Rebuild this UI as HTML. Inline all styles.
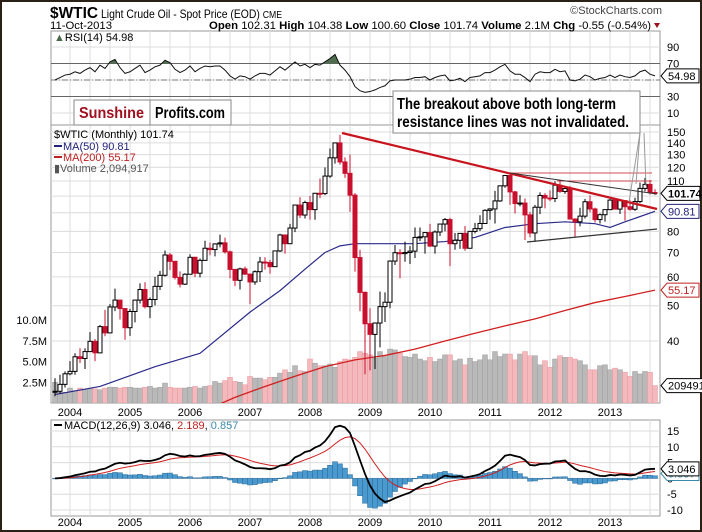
<!DOCTYPE html>
<html><head><meta charset="utf-8"><style>
html,body{margin:0;padding:0;background:#fff}
svg{display:block}
text{font-family:"Liberation Sans",sans-serif}
.nar{font-family:"Liberation Sans",sans-serif;font-weight:bold}
</style></head><body>
<svg id="c" width="702" height="532" viewBox="0 0 702 532" xmlns="http://www.w3.org/2000/svg">
<rect x="1" y="1" width="700" height="530" fill="#fff" stroke="#2b2016" stroke-width="2"/>
<defs>
<clipPath id="cp"><rect x="51" y="125" width="609" height="278"/></clipPath>
<clipPath id="cr"><rect x="51" y="31" width="609" height="94"/></clipPath>
<clipPath id="cm"><rect x="51" y="420" width="609" height="96"/></clipPath>
</defs>
<g id="grid"></g>
<g id="vol" clip-path="url(#cp)"></g>
<g id="price" clip-path="url(#cp)"></g>
<g id="rsi" clip-path="url(#cr)"></g>
<g id="macd" clip-path="url(#cm)"></g>
<g id="axes"></g>
<g id="ann"></g>
<!-- header -->
<text x="50" y="18" font-size="16" font-weight="bold" textLength="48" lengthAdjust="spacingAndGlyphs">$WTIC</text>
<text x="101" y="18" font-size="12" textLength="181" lengthAdjust="spacingAndGlyphs">Light Crude Oil - Spot Price (EOD) <tspan font-size="10">CME</tspan></text>
<text x="662" y="14" font-size="11" text-anchor="end" fill="#444">©StockCharts.com</text>
<text x="50" y="29" font-size="11" textLength="62" lengthAdjust="spacingAndGlyphs">11-Oct-2013</text>
<text x="209" y="29" font-size="11" textLength="442" lengthAdjust="spacingAndGlyphs"><tspan font-weight="bold">Open</tspan> 102.31 <tspan font-weight="bold">High</tspan> 104.38 <tspan font-weight="bold">Low</tspan> 100.60 <tspan font-weight="bold">Close</tspan> 101.74 <tspan font-weight="bold">Volume</tspan> 2.1M <tspan font-weight="bold">Chg</tspan> -0.55 (-0.54%)</text>
<path d="M654,23 L660,23 L657,28 Z" fill="#a01020"/>
<text x="54" y="41" font-size="11"><tspan fill="#4a6a4a">▲</tspan>RSI(14) 54.98</text>
<!-- legends price -->
<text x="54" y="138" font-size="11">$WTIC (Monthly) 101.74</text>
<line x1="54" y1="146" x2="62" y2="146" stroke="#22227a" stroke-width="2"/>
<text x="63" y="150" font-size="11" fill="#22227a">MA(50) 90.81</text>
<line x1="54" y1="157" x2="62" y2="157" stroke="#c02020" stroke-width="2"/>
<text x="63" y="161" font-size="11" fill="#c02020">MA(200) 55.17</text>
<text x="54" y="172" font-size="11" fill="#555">▮Volume 2,094,917</text>
<line x1="54" y1="425" x2="62" y2="425" stroke="#000" stroke-width="2"/>
<text x="64" y="429" font-size="11">MACD(12,26,9) 3.046, <tspan fill="#c02020">2.189</tspan>, <tspan fill="#3a8aa8">0.857</tspan></text>
<!-- Sunshine box -->
<rect x="74" y="100" width="157" height="25" fill="#fff" stroke="#888"/>
<line x1="150" y1="100" x2="150" y2="125" stroke="#888"/>
<text x="79" y="118" font-size="16" class="nar" fill="#a01020" textLength="65" lengthAdjust="spacingAndGlyphs">Sunshine</text>
<text x="155" y="118" font-size="16" class="nar" fill="#000" textLength="70" lengthAdjust="spacingAndGlyphs">Profits.com</text>
<!-- annotation -->
<rect x="393" y="91" width="247" height="42" fill="#fff" stroke="#888"/>
<text x="397" y="109" font-size="16" class="nar" textLength="219" lengthAdjust="spacingAndGlyphs">The breakout above both long-term</text>
<text x="397" y="127" font-size="16" class="nar" textLength="232" lengthAdjust="spacingAndGlyphs">resistance lines was not invalidated.</text>
</svg>
<script>
const months=121; // Oct 2003 .. Oct 2013
const closes=[29.1,30.4,32.5,
33.0,36.2,35.8,37.4,39.9,37.1,43.8,42.1,49.6,51.8,49.1,43.5,
48.2,51.8,55.4,49.7,52.0,56.5,60.6,68.9,66.2,59.8,57.3,61.0,
67.9,61.4,66.6,71.9,71.3,73.9,74.4,70.3,62.9,58.7,63.1,61.05,
58.1,62.0,65.9,65.7,64.0,70.7,78.2,74.0,81.7,94.5,88.7,96.0,
91.8,101.8,101.6,113.5,127.4,140.0,124.1,115.5,100.6,67.8,54.4,44.6,
41.7,44.8,49.7,51.1,66.3,69.9,69.5,70.0,70.6,77.0,77.3,79.4,
72.9,79.7,83.8,86.2,74.0,75.6,79.0,71.9,80.0,81.4,84.1,91.4,
92.2,97.0,106.7,113.9,102.7,95.4,95.7,88.8,79.2,93.2,100.4,98.8,
98.5,107.1,103.0,104.9,86.5,85.0,88.1,96.5,92.2,86.2,88.9,91.8,
97.5,92.1,97.2,93.5,92.0,96.6,105.0,107.7,102.3,101.74];
const highs=[31.6,32.3,33.0,
35.2,37.0,38.2,38.2,42.3,40.5,44.3,48.7,50.5,55.7,50.2,46.3,
49.0,52.0,57.6,58.0,52.7,60.0,62.3,70.9,69.8,66.3,62.1,61.4,
69.2,68.2,67.4,75.4,74.5,74.2,78.4,76.9,70.9,62.3,63.6,64.0,
61.0,62.5,68.1,67.9,66.8,70.9,78.8,78.3,83.9,94.7,99.3,97.1,
100.1,102.1,111.8,119.9,135.1,140.4,147.3,127.8,130.0,102.0,71.2,54.7,
49.2,45.0,54.7,54.4,66.6,73.4,71.5,75.0,72.9,82.0,82.0,79.6,
83.9,80.5,83.9,87.1,87.2,79.2,79.2,82.8,80.0,84.4,88.6,92.0,
92.6,103.4,107.0,113.9,114.8,103.4,100.6,98.5,90.5,94.6,102.4,101.8,
103.7,109.8,110.6,106.4,106.5,86.9,92.9,98.3,100.4,93.0,89.6,91.8,
98.2,97.8,97.6,97.6,97.3,99.0,108.9,112.2,110.7,104.4];
const lows=[28.2,28.7,29.8,
32.2,32.3,34.8,33.5,37.3,35.2,37.5,41.2,42.0,48.3,45.8,40.3,
41.3,45.0,50.7,49.1,46.2,50.1,55.2,60.1,62.6,59.0,56.1,57.0,
61.0,59.9,59.8,66.8,68.8,68.3,72.3,69.5,59.5,56.6,55.4,60.7,
50.5,57.1,58.1,62.8,61.2,64.3,70.2,69.5,73.9,79.6,87.1,86.8,
86.1,86.1,98.7,100.6,112.2,122.8,122.0,112.2,90.5,62.0,48.3,32.4,
33.2,33.5,38.4,45.1,49.2,64.7,59.5,66.0,65.1,67.6,75.2,69.5,
72.4,69.5,77.7,80.0,64.2,71.2,71.6,70.8,72.8,79.0,80.2,83.9,
86.1,84.1,96.4,105.4,94.6,89.6,93.7,75.7,77.1,74.9,89.2,92.5,
96.8,96.3,102.1,101.4,86.3,77.3,82.6,86.8,90.3,84.6,84.1,85.1,
91.7,91.9,89.3,85.6,91.2,91.1,95.7,103.0,101.0,100.6];
const volumes=[2.5,1.3,1.3,
1.8,1.5,1.8,1.6,1.7,1.7,1.6,1.8,1.9,1.9,1.8,1.9,
1.9,1.8,1.8,1.9,2.0,1.8,1.9,2.4,1.9,1.8,1.8,1.8,
1.9,2.0,1.8,2.0,2.1,2.6,2.4,2.7,3.1,2.6,2.5,2.2,
3.2,3.0,3.0,2.8,3.1,3.1,3.6,4.0,3.7,4.5,3.9,3.8,
5.3,4.8,4.5,4.5,4.7,4.3,5.0,5.3,5.2,5.5,6.2,6.0,
5.8,5.4,6.2,5.6,6.5,6.4,6.0,5.6,5.5,5.9,5.3,5.1,
5.5,5.0,5.3,5.8,5.8,5.1,5.3,4.6,5.4,5.0,5.2,5.8,
5.2,6.2,5.6,5.9,5.9,5.2,5.9,6.2,5.7,5.7,4.6,5.1,
4.3,5.3,5.7,5.5,5.5,5.3,5.1,4.6,4.0,4.0,4.5,4.6,
4.0,4.2,4.0,3.7,3.2,3.8,3.5,3.8,3.7,2.1];
const rsiValues=[50,53,56,
57,60,58,62,65,60,68,64,72,75,65,58,
60,64,68,59,62,66,68,74,71,63,59,62,
67,60,64,67,66,67,67,62,55,51,55,54,
51,55,58,58,56,61,66,62,67,72,67,69,
65,69,68,72,76,81,68,62,54,42,37,35,
36,38,41,43,49,50,50,50,51,53,53,54,
50,53,55,56,49,50,52,48,53,54,55,59,
59,62,66,69,61,57,57,53,48,57,60,59,
59,63,60,61,50,49,51,56,54,50,52,53,
56,53,56,54,53,55,60,62,57,54.98];
const ma50Months=[0,9,20,29,39,45,50,54,57,60,72,78,84,90,96,102,108,111,114,120];
const ma50Values=[28.5,30,34,37,48,55,63,70,73,74,74,75,77,82,84,85,84,82,85,90.81];
const ma200Months=[32,36,42,48,54,60,66,72,78,84,90,96,102,108,114,120];
const ma200Values=[26.5,28,30,32,34,35.5,36.5,38,40,42,44,46,48.5,51,53,55.17];
const years=["2004","2005","2006","2007","2008","2009","2010","2011","2012","2013"];
const priceTicks=[40,50,60,70,80,110,120,130,140,150];
const priceGrid=[40,50,60,70,80,90,100,110,120,130,140,150];
const volTicks=[2.5,5.0,7.5,10.0];
const rsiTicks=[10,30,70,90];
const macdTicks=[-10,-5,0,5,10,15];

const NS="http://www.w3.org/2000/svg";
const X=i=>55+5*i;
const yP=p=>132+158.1*Math.log(150/p);
const yV=v=>403-8.3*v;
const yR=r=>121.25-0.825*r;
const yM=m=>478.4-3.16*m;
function mk(par,tag,at){const e=document.createElementNS(NS,tag);for(const k in at)e.setAttribute(k,at[k]);document.getElementById(par).appendChild(e);return e;}

const g='grid';
[[31,125],[125,403],[420,516]].forEach(([t,b])=>{
 mk(g,'rect',{x:51,y:t,width:609,height:b-t,fill:'#fff',stroke:'#999'});
 for(let x=70;x<660;x+=20){mk(g,'line',{x1:x,y1:t,x2:x,y2:b,stroke:'#dcdcdc'});}
});
priceGrid.forEach(p=>{mk(g,'line',{x1:51,x2:660,y1:yP(p),y2:yP(p),stroke:'#dcdcdc'});});
[10,50,90].forEach(r=>{mk(g,'line',{x1:51,x2:660,y1:yR(r),y2:yR(r),stroke:'#dcdcdc'});});
macdTicks.forEach(m=>{mk(g,'line',{x1:51,x2:660,y1:yM(m),y2:yM(m),stroke:'#dcdcdc'});});
mk(g,'line',{x1:51,x2:660,y1:yR(70),y2:yR(70),stroke:'#666'});
mk(g,'line',{x1:51,x2:660,y1:yR(30),y2:yR(30),stroke:'#666'});
mk(g,'line',{x1:51,x2:660,y1:yR(50),y2:yR(50),stroke:'#777','stroke-dasharray':'6,2,1,2'});

for(let i=0;i<months;i++){
 const dn=i>0&&closes[i]<closes[i-1];
 const r=mk('vol','rect',{x:X(i)-2.5,y:yV(volumes[i]),width:5,height:403-yV(volumes[i]),fill:dn?'#f3b9bd':'#b9b9b9',stroke:dn?'#e89aa0':'#a0a0a0','stroke-width':0.5});
 
 
}
function polyKnots(ms,vs){return ms.map((m,k)=>X(m)+','+yP(vs[k])).join(' ');}
const m200=mk('price','polyline',{points:polyKnots(ma200Months,ma200Values),fill:'none',stroke:'#d02020','stroke-width':1.3});


const m50=mk('price','polyline',{points:polyKnots(ma50Months,ma50Values),fill:'none',stroke:'#2a2a8a','stroke-width':1.2,'stroke-linejoin':'round'});


for(let i=0;i<months;i++){
 const c=closes[i],o=i>0?closes[i-1]:29.0;
 const up=c>=o,col=up?'#000':'#c8102e';
 const w=mk('price','line',{x1:X(i),x2:X(i),y1:yP(highs[i]),y2:yP(lows[i]),stroke:col,'stroke-width':1});
 
 
 const t=yP(Math.max(o,c)),b=yP(Math.min(o,c));
 const r=mk('price','rect',{x:X(i)-2,y:t,width:4,height:Math.max(1,b-t),fill:up?'#fff':'#c8102e',stroke:col,'stroke-width':1});
 
 
}
const rp=rsiValues.map((r,i)=>X(i)+','+yR(r)).join(' ');
mk('rsi','clipPath',{id:'c70'});
mk('c70','rect',{x:51,y:31,width:609,height:yR(70)-31});
const ra=mk('rsi','polygon',{points:X(0)+','+yR(70)+' '+rp+' '+X(months-1)+','+yR(70),fill:'#4f6e4f','clip-path':'url(#c70)'});


const rl=mk('rsi','polyline',{points:rp,fill:'none',stroke:'#111','stroke-width':1});


function ema(arr,n){const k=2/(n+1);const out=[arr[0]];for(let i=1;i<arr.length;i++)out.push(arr[i]*k+out[i-1]*(1-k));return out;}
const e12=ema(closes,12),e26=ema(closes,26);
const macdLine=e12.map((v,i)=>v-e26[i]);
const sig=ema(macdLine,9);
for(let i=0;i<months;i++){
 const h=macdLine[i]-sig[i];
 const r=mk('macd','rect',{x:X(i)-2.5,y:Math.min(yM(h),yM(0)),width:5,height:Math.max(0.5,Math.abs(yM(h)-yM(0))),fill:'#4a9ad0',stroke:'#2a6a98','stroke-width':0.5});
 
 
}
const sl=mk('macd','polyline',{points:sig.map((v,i)=>X(i)+','+yM(v)).join(' '),fill:'none',stroke:'#d02020','stroke-width':1});


const ml=mk('macd','polyline',{points:macdLine.map((v,i)=>X(i)+','+yM(v)).join(' '),fill:'none',stroke:'#000','stroke-width':1.8});



function txt(x,y,s,at){const e=mk('axes','text',Object.assign({x:x,y:y,'font-size':11},at||{}));e.textContent=s;return e;}
years.forEach((s,k)=>{const x=X(3+12*k);
 const a=txt(x,416,s,{'text-anchor':'middle'});
 const b=txt(x,526,s,{'text-anchor':'middle'});});
priceTicks.forEach(p=>{const e=txt(667,yP(p)+4,String(p));});
volTicks.forEach(v=>{const e=txt(47,yV(v)+4,v.toFixed(1)+'M',{'text-anchor':'end'});});
rsiTicks.forEach(r=>{const e=txt(667,yR(r)+4,String(r));});
macdTicks.forEach(m=>{const e=txt(667,yM(m)+4,String(m));});
function tag(y,s,col,w,bold,name){
 const p=mk('axes','path',{d:`M661,${y} L667,${y-7} L${667+w},${y-7} L${667+w},${y+7} L667,${y+7} Z`,fill:'#fff',stroke:col});
 
 
 txt(668,y+4,s,{fill:col,'font-weight':bold?'bold':'normal'});
}
tag(yM(sig[months-1])+2,'0.857','#3a8aa8',32,false,'macd-hist-tag');
tag(yM(macdLine[months-1]),'3.046','#000',32,false,'macd-value-tag');
tag(yP(closes[months-1]),'101.74','#000',33,true,'price-value-tag');
tag(yP(ma50Values[ma50Values.length-1]),'90.81','#22227a',32,false,'ma50-value-tag');
tag(yP(ma200Values[ma200Values.length-1]),'55.17','#c02020',32,false,'ma200-value-tag');
tag(yV(volumes[months-1]),'209491','#000',36,false,'volume-value-tag');
tag(yR(rsiValues[months-1]),'54.98','#000',32,false,'rsi-value-tag');

function ln(x1,y1,x2,y2,c,w,name){const l=mk('ann','line',{x1,y1,x2,y2,stroke:c,'stroke-width':w});}
ln(342,133,657,209,'#c8141e',2.2,'resistance-line-red');
ln(510,173,652,173,'#c8141e',0.8,'horizontal-resistance-1');
ln(557,181,652,181,'#c8141e',0.8,'horizontal-resistance-2');
ln(510,173,657,194,'#333',1,'resistance-line-black');
ln(527,242,657,229,'#333',1.2,'support-line');
ln(640,133,629,202,'#999',1,'callout-line-1');
ln(640,133,636,184,'#999',1,'callout-line-2');
ln(644,133,646,186,'#999',1,'callout-line-3');
</script>
</body></html>
